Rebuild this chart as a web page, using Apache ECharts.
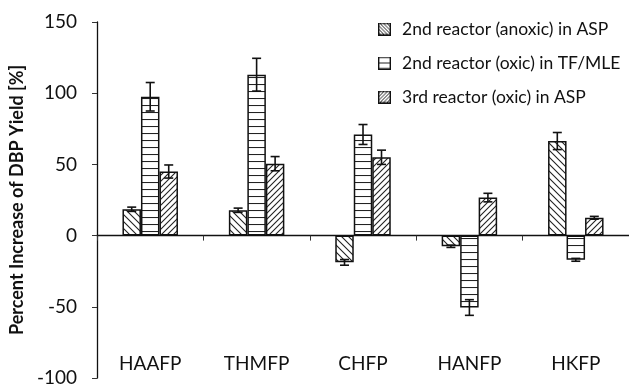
<!DOCTYPE html>
<html>
<head>
<meta charset="utf-8">
<script src="https://cdn.jsdelivr.net/npm/echarts@6/dist/echarts.min.js"></script>
<style>html,body{margin:0;padding:0;background:#fff}#c{width:629px;height:390px}</style>
</head>
<body>
<div id="c"></div>
<script>
const categories = ['HAAFP', 'THMFP', 'CHFP', 'HANFP', 'HKFP'];
const seriesNames = ['2nd reactor (anoxic) in ASP', '2nd reactor (oxic) in TF/MLE', '3rd reactor (oxic) in ASP'];
const anoxicASP = [18.5, 17.8, -18.8, -7.5, 66.4];
const anoxicASPErr = [1.5, 1.5, 2, 0.8, 6];
const oxicTF = [97.5, 113, 71, -50.5, -17];
const oxicTFErr = [10, 11.5, 7, 5.5, 1];
const oxicASP = [45, 50.5, 55, 26.7, 12.5];
const oxicASPErr = [4.6, 5, 5, 3, 1];
const yMin = -100, yMax = 150, yStep = 50;

function drawLines(g, kind, w, h, s) {
  g.beginPath();
  if (kind === 'back') {
    for (let k = -h; k < w + h; k += s) { g.moveTo(k, 0); g.lineTo(k + h, h); }
  } else if (kind === 'fwd') {
    for (let k = -h; k < w + h; k += s) { g.moveTo(k, h); g.lineTo(k + h, 0); }
  } else {
    for (let y = 0.5; y < h; y += s) { g.moveTo(0, y); g.lineTo(w, y); }
  }
  g.stroke();
}
function makePattern(kind) {
  const s = kind === 'fwd' ? 6 : 7;
  const c = document.createElement('canvas');
  c.width = s; c.height = s;
  const g = c.getContext('2d');
  g.fillStyle = '#fff'; g.fillRect(0, 0, s, s);
  g.strokeStyle = '#222'; g.lineWidth = 1.1;
  g.beginPath();
  if (kind === 'back') {
    g.moveTo(-1, -1); g.lineTo(s + 1, s + 1);
    g.moveTo(-1, s - 1); g.lineTo(1, s + 1);
    g.moveTo(s - 1, -1); g.lineTo(s + 1, 1);
  } else if (kind === 'fwd') {
    g.moveTo(-1, s + 1); g.lineTo(s + 1, -1);
    g.moveTo(-1, 1); g.lineTo(1, -1);
    g.moveTo(s - 1, s + 1); g.lineTo(s + 1, s - 1);
  } else {
    g.moveTo(0, 0.5); g.lineTo(s, 0.5);
  }
  g.stroke();
  return { image: c, repeat: 'repeat' };
}
function makeIcon(kind) {
  const w = 13, h = 13;
  const c = document.createElement('canvas');
  c.width = w; c.height = h;
  const g = c.getContext('2d');
  g.fillStyle = '#fff'; g.fillRect(0, 0, w, h);
  g.strokeStyle = '#222'; g.lineWidth = 1;
  if (kind === 'horiz') {
    g.beginPath(); g.moveTo(0, 6.5); g.lineTo(w, 6.5); g.stroke();
  } else {
    drawLines(g, kind, w, h, 3.5);
  }
  g.strokeStyle = '#111'; g.lineWidth = 1.4;
  g.strokeRect(0.7, 0.7, w - 1.4, h - 1.4);
  return 'image://' + c.toDataURL();
}
const kinds = ['back', 'horiz', 'fwd'];
const patterns = kinds.map(makePattern);
const icons = kinds.map(makeIcon);
const values = [anoxicASP, oxicTF, oxicASP];
const errs = [anoxicASPErr, oxicTFErr, oxicASPErr];
const BW = 18.5;
const font = 'Lato, "Open Sans", sans-serif';

const series = [];
values.forEach((vals, i) => {
  series.push({
    name: seriesNames[i], type: 'bar', xAxisIndex: 0, data: vals,
    barWidth: BW, barGap: '0%',
    itemStyle: { color: patterns[i], borderColor: '#111', borderWidth: 1.5 },
    emphasis: { disabled: true }
  });
});
values.forEach((vals, i) => {
  const off = (i - 1) * BW;
  series.push({
    type: 'custom', xAxisIndex: 0, silent: true, z: 5,
    data: vals.map((v, k) => [k, v, errs[i][k]]),
    encode: { x: 0, y: 1 },
    renderItem: function (params, api) {
      const k = api.value(0), v = api.value(1), e = api.value(2);
      const hi = api.coord([k, v + e]);
      const lo = api.coord([k, v - e]);
      const x = hi[0] + off;
      const st = { stroke: '#111', lineWidth: 1.6 };
      return { type: 'group', children: [
        { type: 'line', shape: { x1: x, y1: hi[1], x2: x, y2: lo[1] }, style: st },
        { type: 'line', shape: { x1: x - 4.5, y1: hi[1], x2: x + 4.5, y2: hi[1] }, style: st },
        { type: 'line', shape: { x1: x - 4.5, y1: lo[1], x2: x + 4.5, y2: lo[1] }, style: st }
      ]};
    }
  });
});

const chart = echarts.init(document.getElementById('c'), null, { renderer: 'canvas' });
chart.setOption({
  animation: false,
  backgroundColor: '#fff',
  textStyle: { fontFamily: font },
  grid: { left: 92, right: -8, top: 22, bottom: 12 },
  legend: {
    orient: 'vertical', left: 373, top: 15,
    itemWidth: 13, itemHeight: 13, itemGap: 16,
    data: seriesNames.map((n, i) => ({ name: n, icon: icons[i] })),
    textStyle: { fontSize: 17.5, color: '#111', fontFamily: font, padding: [0, 0, 0, 6] },
    selectedMode: false
  },
  xAxis: [
    {
      type: 'category', data: categories, position: 'bottom',
      axisLine: { onZero: true, lineStyle: { color: '#111', width: 1.3 } },
      axisTick: { show: true, length: 5, lineStyle: { color: '#333' } },
      axisLabel: { show: false }, splitLine: { show: false }
    },
    {
      type: 'category', data: categories, position: 'bottom', offset: -32,
      axisLine: { show: false }, axisTick: { show: false },
      axisLabel: { fontSize: 19, color: '#111', fontFamily: font, margin: 8 }
    }
  ],
  yAxis: {
    type: 'value', min: yMin, max: yMax, interval: yStep,
    name: 'Percent Increase of DBP Yield [%]', nameLocation: 'middle', nameGap: 57,
    nameTextStyle: { fontSize: 18, fontWeight: 'bold', color: '#111', fontFamily: font },
    axisLine: { show: true, lineStyle: { color: '#111', width: 1.3 } },
    axisTick: { show: true, length: 5, lineStyle: { color: '#333' } },
    axisLabel: { fontSize: 19, color: '#111', margin: 20, fontFamily: font },
    splitLine: { show: false }
  },
  series: series
});
</script>
</body>
</html>
